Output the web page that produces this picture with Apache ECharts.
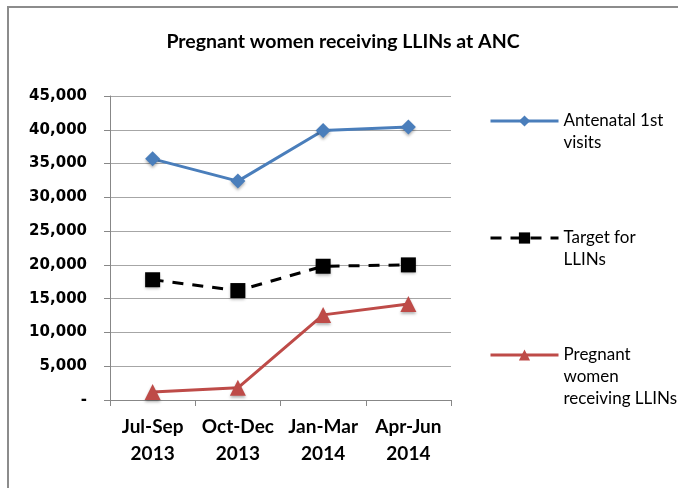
<!DOCTYPE html>
<html>
<head>
<meta charset="utf-8">
<script src="https://cdn.jsdelivr.net/npm/echarts@6/dist/echarts.min.js"></script>
<style>
  html, body { margin: 0; padding: 0; background: #fff; }
  #main { width: 678px; height: 488px; }
</style>
</head>
<body>
<div id="main"></div>
<script>
  // 季度类别
  var categories = ['Jul-Sep\n2013', 'Oct-Dec\n2013', 'Jan-Mar\n2014', 'Apr-Jun\n2014'];
  var antenatalVisits = [35700, 32400, 39900, 40400];
  var targetLLINs = [17800, 16200, 19800, 20000];
  var pregnantLLINs = [1200, 1800, 12600, 14200];
  var seriesNames = ['Antenatal 1st\nvisits', 'Target for\nLLINs', 'Pregnant\nwomen\nreceiving LLINs'];

  var font = 'Lato';
  var myChart = echarts.init(document.getElementById('main'));

  // 图例: 每个系列一个图例, 图标与第一行文字对齐
  function legendFor(name, iconY) {
    var lines = name.split('\n').length;
    var pad = new Array(lines).join('\n');
    return {
      data: [name],
      left: 489,
      top: iconY - 11 * (2 * lines - 1),
      padding: 0,
      orient: 'vertical',
      itemWidth: 68,
      itemHeight: 14,
      selectedMode: false,
      lineStyle: { width: 3 },
      formatter: function (n) { return pad + n; },
      textStyle: {
        fontFamily: font,
        fontSize: 17,
        color: '#000',
        lineHeight: 22
      }
    };
  }

  var option = {
    backgroundColor: '#fff',
    animation: false,
    title: {
      text: 'Pregnant women receiving LLINs at ANC',
      left: 343,
      top: 32,
      padding: 0,
      textAlign: 'center',
      textStyle: { fontFamily: font, fontSize: 19.5, fontWeight: 'bold', color: '#000' }
    },
    graphic: [{
      type: 'polyline',
      shape: { points: [[8, 500], [8, 7], [700, 7]] },
      style: { stroke: '#8c8c8c', lineWidth: 2, fill: null }
    }],
    legend: [
      legendFor(seriesNames[0], 121),
      legendFor(seriesNames[1], 238),
      legendFor(seriesNames[2], 355)
    ],
    grid: { left: 110, right: 227, top: 96, bottom: 88 },
    xAxis: {
      type: 'category',
      data: categories,
      boundaryGap: true,
      axisLine: { lineStyle: { color: '#878787', width: 1 } },
      axisTick: { show: true, length: 6, lineStyle: { color: '#878787' } },
      axisLabel: {
        interval: 0,
        margin: 13,
        fontFamily: font,
        fontSize: 19,
        fontWeight: 'bold',
        color: '#000',
        lineHeight: 27
      }
    },
    yAxis: {
      type: 'value',
      min: 0,
      max: 45000,
      interval: 5000,
      axisLine: { show: true, lineStyle: { color: '#878787', width: 1 } },
      axisTick: { show: true, length: 6, lineStyle: { color: '#878787' } },
      splitLine: { lineStyle: { color: '#a6a6a6', width: 1 } },
      axisLabel: {
        margin: 23,
        fontFamily: 'DejaVu Sans',
        fontSize: 15,
        fontWeight: 'bold',
        color: '#000',
        formatter: function (v) {
          return v === 0 ? '-' : v.toLocaleString('en-US');
        }
      }
    },
    series: [
      {
        name: seriesNames[0],
        type: 'line',
        data: antenatalVisits,
        symbol: 'diamond',
        symbolSize: 15,
        lineStyle: { color: '#4a7ebb', width: 3 },
        itemStyle: { color: '#4a7ebb', shadowColor: 'rgba(0,0,0,0.3)', shadowBlur: 3, shadowOffsetY: 2 }
      },
      {
        name: seriesNames[1],
        type: 'line',
        data: targetLLINs,
        symbol: 'rect',
        symbolSize: 15,
        lineStyle: { color: '#000', width: 3, type: [11, 9] },
        itemStyle: { color: '#000', shadowColor: 'rgba(0,0,0,0.3)', shadowBlur: 3, shadowOffsetY: 2 }
      },
      {
        name: seriesNames[2],
        type: 'line',
        data: pregnantLLINs,
        symbol: 'triangle',
        symbolSize: 16,
        lineStyle: { color: '#be4b48', width: 3 },
        itemStyle: { color: '#be4b48', shadowColor: 'rgba(0,0,0,0.3)', shadowBlur: 3, shadowOffsetY: 2 }
      }
    ]
  };

  myChart.setOption(option);
</script>
</body>
</html>
